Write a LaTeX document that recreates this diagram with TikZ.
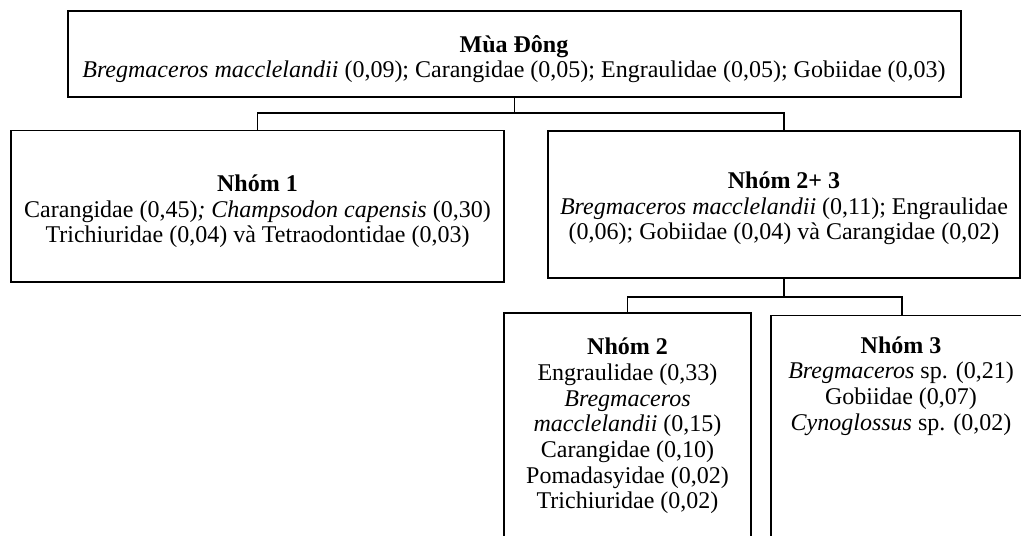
\documentclass[tikz,border=0pt]{standalone}
\usepackage{fontspec}
\setmainfont{Liberation Serif}
\begin{document}
\begin{tikzpicture}[x=0.5pt,y=-0.5pt,
  box/.style={draw, line width=0.9pt, rectangle, inner sep=0pt, outer sep=0pt},
  txt/.style={align=center, inner sep=0pt, font=\fontsize{12}{12.85}\selectfont},
  conn/.style={line width=0.9pt}]
\useasboundingbox (0,0) rectangle (1021,535);
\clip (0,0) rectangle (1021,535);
% boxes
\node[box, minimum width=446.5pt, minimum height=43pt] (top) at (514.5,53.7) {};
\node[box, minimum width=246.5pt, minimum height=75.6pt] (n1) at (257.5,206.1) {};
\node[box, minimum width=236pt, minimum height=73.5pt] (n23) at (784,204.5) {};
\node[box, minimum width=123.5pt, minimum height=125pt] (n2) at (627.5,438) {};
\node[box, minimum width=131pt, minimum height=123pt] (n3) at (902,438.5) {};
% texts
\node[txt] (topt) at (514,59) {\textbf{Mùa Đông}\\\textit{Bregmaceros macclelandii} (0,09); Carangidae (0,05); Engraulidae (0,05); Gobiidae (0,03)};
\node[txt] (n1t) at (257.5,211.5) {\textbf{Nhóm 1}\\Carangidae (0,45)\textit{; Champsodon capensis} (0,30)\\Trichiuridae (0,04) và Tetraodontidae (0,03)};
\node[txt] (n23t) at (784,208.5) {\textbf{Nhóm 2+ 3}\\\textit{Bregmaceros macclelandii} (0,11); Engraulidae\\(0,06); Gobiidae (0,04) và Carangidae (0,02)};
\node[txt] (n2t) at (627.5,426) {\textbf{Nhóm 2}\\Engraulidae (0,33)\\\textit{Bregmaceros}\\\textit{macclelandii} (0,15)\\Carangidae (0,10)\\Pomadasyidae (0,02)\\Trichiuridae (0,02)};
\node[txt] (n3t) at (901,386) {\textbf{Nhóm 3}\\\textit{Bregmaceros} sp. (0,21)\\Gobiidae (0,07)\\\textit{Cynoglossus} sp. (0,02)};
% connectors
\coordinate (j1) at (514.5,113);
\coordinate (j2) at (784,297);
\draw[conn] (top.south) -- (j1);
\draw[conn] (n1.north) |- (j1) -| (n23.north);
\draw[conn] (n23.south) -- (j2);
\draw[conn] (n2.north) |- (j2) -| (n3.north);
\end{tikzpicture}
\end{document}
